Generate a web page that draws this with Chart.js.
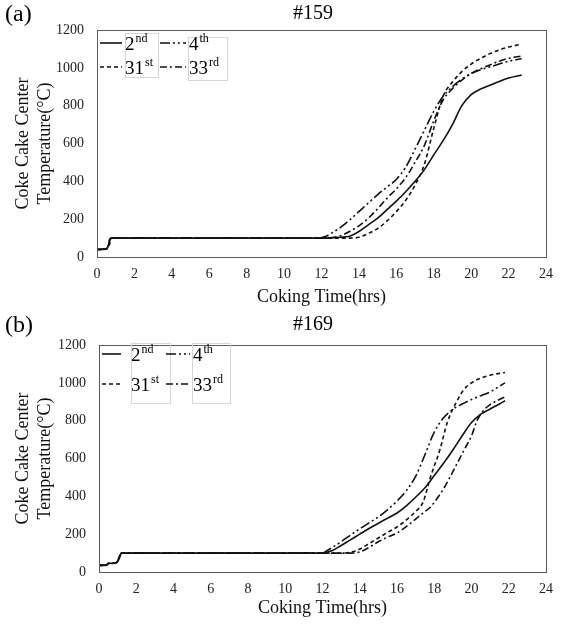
<!DOCTYPE html>
<html>
<head>
<meta charset="utf-8">
<script src="https://cdn.jsdelivr.net/npm/chart.js@4.4.1/dist/chart.umd.min.js"></script>
<style>
  body { margin: 0; background: #fff; width: 564px; height: 635px; overflow: hidden; position: relative; }
  .panel { position: absolute; left: 0; width: 564px; }
</style>
</head>
<body>
<div class="panel" style="top:0;height:315px"><canvas id="chart159"></canvas></div>
<div class="panel" style="top:315px;height:320px"><canvas id="chart169"></canvas></div>
<script>
// legend names: number + superscript suffix
const seriesBase = ["2", "4", "31", "33"];
const seriesSup = ["nd", "th", "st", "rd"];

const xTicks = { min: 0, max: 24, step: 2 };
const yTicks = { min: 0, max: 1200, step: 200 };

// ---- oven #159 (a) ----
const hours159_2nd = [0, 0.5, 0.6, 0.7, 0.8, 12, 12.5, 13, 13.5, 14, 14.5, 15, 15.5, 16, 16.5, 17, 17.5, 18, 18.5, 19, 19.5, 20, 20.5, 21, 21.5, 22, 22.7];
const temp159_2nd = [40, 43, 60, 95, 100, 100, 101, 104, 110, 135, 170, 205, 250, 295, 345, 400, 462, 540, 615, 700, 800, 858, 888, 908, 928, 946, 962];

const hours159_4th = [0, 0.5, 0.6, 0.7, 0.8, 11.8, 12.2, 12.6, 13, 13.5, 14, 14.5, 15, 15.5, 16, 16.5, 17, 17.5, 18, 18.5, 19, 19.5, 20, 20.5, 21, 21.5, 22, 22.7];
const temp159_4th = [40, 42, 55, 98, 100, 100, 108, 130, 155, 195, 240, 285, 330, 370, 410, 475, 570, 670, 770, 850, 900, 940, 970, 990, 1005, 1020, 1035, 1048];

const hours159_31st = [0, 0.5, 0.65, 0.75, 0.85, 13.5, 14, 14.5, 15, 15.5, 16, 16.5, 17, 17.5, 18, 18.5, 19, 19.5, 20, 20.5, 21, 21.5, 22, 22.7];
const temp159_31st = [38, 42, 60, 97, 100, 100, 104, 125, 150, 190, 240, 300, 380, 490, 680, 850, 925, 980, 1020, 1050, 1075, 1095, 1110, 1125];

const hours159_33rd = [0, 0.5, 0.6, 0.7, 0.8, 12, 12.5, 13, 13.5, 14, 14.5, 15, 15.5, 16, 16.5, 17, 17.5, 18, 18.5, 19, 19.5, 20, 20.5, 21, 21.5, 22, 22.7];
const temp159_33rd = [41, 44, 58, 96, 100, 100, 102, 112, 135, 165, 205, 255, 310, 360, 420, 500, 590, 720, 830, 890, 935, 970, 995, 1015, 1035, 1050, 1062];

// ---- oven #169 (b) ----
const hours169_2nd = [0, 0.4, 0.5, 0.9, 1.0, 1.1, 1.2, 12, 12.5, 13, 13.5, 14, 14.5, 15, 15.5, 16, 16.5, 17, 17.5, 18, 18.5, 19, 19.5, 20, 20.5, 21, 21.5, 21.8];
const temp169_2nd = [35, 37, 45, 48, 55, 75, 100, 100, 112, 140, 170, 200, 230, 258, 285, 312, 350, 395, 445, 510, 575, 645, 720, 790, 835, 862, 888, 905];

const hours169_4th = [0, 0.4, 0.5, 0.9, 1.0, 1.1, 1.2, 12, 12.3, 12.5, 13, 13.5, 14, 14.5, 15, 15.5, 16, 16.5, 17, 17.5, 18, 18.5, 19, 19.5, 20, 20.5, 21, 21.5, 21.8];
const temp169_4th = [34, 36, 44, 47, 58, 80, 100, 100, 116, 128, 160, 195, 228, 260, 291, 330, 375, 430, 505, 620, 740, 815, 860, 888, 912, 932, 952, 982, 1000];

const hours169_31st = [0, 0.4, 0.5, 0.9, 1.0, 1.1, 1.2, 13, 13.5, 13.9, 14.5, 15, 15.5, 16, 16.5, 17, 17.4, 17.8, 18.3, 18.7, 19.2, 19.6, 20, 20.5, 21, 21.5, 21.8];
const temp169_31st = [36, 38, 46, 50, 60, 85, 100, 100, 104, 116, 150, 180, 210, 238, 275, 320, 370, 503, 645, 790, 900, 965, 1000, 1025, 1040, 1050, 1055];

const hours169_33rd = [0, 0.4, 0.5, 0.9, 1.0, 1.1, 1.2, 13.5, 14, 14.5, 15, 15.5, 16, 16.5, 17, 17.5, 17.8, 18.5, 19, 19.6, 20, 20.3, 20.7, 21, 21.5, 21.8];
const temp169_33rd = [35, 37, 45, 49, 56, 78, 100, 100, 106, 130, 160, 185, 206, 240, 280, 320, 344, 440, 530, 645, 720, 800, 860, 885, 912, 926];

const serifFont = '"Liberation Serif", "Times New Roman", serif';
const dashes = [[], [10, 3, 2, 3, 2, 3], [4, 3], [7, 3, 2, 3]];

function toPoints(hours, temps) {
    return hours.map((h, i) => ({ x: h, y: temps[i] }));
}

// draws "(a)", "#159", the plot box and the Excel-style legend
const panelDecor = {
    id: "panelDecor",
    afterDraw(chart, args, opts) {
        const ctx = chart.ctx;
        const area = chart.chartArea;
        ctx.save();

        // plot border
        ctx.strokeStyle = "#5a5a5a";
        ctx.lineWidth = 1;
        ctx.setLineDash([]);
        ctx.strokeRect(area.left + 0.5, area.top + 0.5, area.right - area.left, area.bottom - area.top);

        ctx.fillStyle = "#000";
        ctx.textBaseline = "middle";
        ctx.textAlign = "left";
        ctx.font = "24px " + serifFont;
        ctx.fillText(opts.panel, 5, opts.titleY + 1);
        ctx.textAlign = "center";
        ctx.font = "20px " + serifFont;
        ctx.fillText(opts.title, 313, opts.titleY);

        // faint text boxes around legend labels
        ctx.strokeStyle = "#d6d6d6";
        opts.boxes.forEach((b) => ctx.strokeRect(b[0] + 0.5, b[1] + 0.5, b[2], b[3]));

        // legend entries
        ctx.textAlign = "left";
        ctx.textBaseline = "alphabetic";
        ctx.strokeStyle = "#111";
        ctx.lineWidth = 1.6;
        opts.legend.forEach((e, i) => {
            ctx.setLineDash(dashes[i]);
            ctx.beginPath();
            ctx.moveTo(e.lx0, e.y);
            ctx.lineTo(e.lx1, e.y);
            ctx.stroke();
            ctx.font = "19px " + serifFont;
            ctx.fillText(seriesBase[i], e.tx, e.y + 7);
            const w = ctx.measureText(seriesBase[i]).width;
            ctx.font = "12px " + serifFont;
            ctx.fillText(seriesSup[i], e.tx + w + 1, e.y - 1);
        });
        ctx.restore();
    },
};

function makeChart(canvasId, series, cfg) {
    const datasets = series.map((s, i) => ({
        label: seriesBase[i] + seriesSup[i],
        data: toPoints(s[0], s[1]),
        borderColor: "#111",
        borderWidth: 1.6,
        borderDash: dashes[i],
        pointRadius: 0,
        showLine: true,
        fill: false,
        cubicInterpolationMode: "monotone",
    }));

    const ctx = document.getElementById(canvasId).getContext("2d");
    return new Chart(ctx, {
        type: "scatter",
        data: { datasets: datasets },
        plugins: [panelDecor],
        options: {
            responsive: true,
            maintainAspectRatio: false,
            animation: false,
            layout: { padding: { left: 0, right: 564 - cfg.plotRight, top: 30, bottom: 0 } },
            plugins: {
                legend: { display: false },
                tooltip: { enabled: false },
                panelDecor: cfg.decor,
            },
            scales: {
                x: {
                    type: "linear",
                    min: xTicks.min,
                    max: xTicks.max,
                    afterFit: (scale) => { scale.height = cfg.height - 257; },
                    grid: { display: false, drawTicks: false },
                    border: { display: false },
                    ticks: {
                        stepSize: xTicks.step,
                        padding: 9,
                        color: "#222",
                        font: { family: serifFont, size: 14 },
                        callback: (v) => String(v),
                    },
                    title: {
                        display: true,
                        text: "Coking Time(hrs)",
                        color: "#111",
                        font: { family: serifFont, size: 18 },
                        padding: { top: 0, bottom: cfg.xTitlePad },
                    },
                },
                y: {
                    min: yTicks.min,
                    max: yTicks.max,
                    afterFit: (scale) => { scale.width = cfg.plotLeft; },
                    grid: { display: false, drawTicks: false },
                    border: { display: false },
                    ticks: {
                        stepSize: yTicks.step,
                        padding: 13,
                        color: "#222",
                        font: { family: serifFont, size: 14 },
                        callback: (v) => String(v),
                    },
                    title: {
                        display: true,
                        text: ["Coke Cake Center", "Temperature(°C)"],
                        color: "#111",
                        font: { family: serifFont, size: 18, lineHeight: 1.25 },
                        padding: { top: 12, bottom: 0 },
                    },
                },
            },
        },
    });
}

makeChart("chart159", [
    [hours159_2nd, temp159_2nd],
    [hours159_4th, temp159_4th],
    [hours159_31st, temp159_31st],
    [hours159_33rd, temp159_33rd],
], {
    height: 315,
    plotLeft: 97,
    plotRight: 546,
    xTitlePad: 7,
    decor: {
        panel: "(a)",
        title: "#159",
        titleY: 14,
        boxes: [[125, 33, 33, 44], [188, 37, 39, 43]],
        legend: [
            { lx0: 100, lx1: 122, tx: 125, y: 43 },
            { lx0: 160, lx1: 186, tx: 189, y: 43 },
            { lx0: 100, lx1: 122, tx: 125, y: 67 },
            { lx0: 160, lx1: 186, tx: 189, y: 67 },
        ],
    },
});

makeChart("chart169", [
    [hours169_2nd, temp169_2nd],
    [hours169_4th, temp169_4th],
    [hours169_31st, temp169_31st],
    [hours169_33rd, temp169_33rd],
], {
    height: 320,
    plotLeft: 99,
    plotRight: 546,
    xTitlePad: 16,
    decor: {
        panel: "(b)",
        title: "#169",
        titleY: 10,
        boxes: [[131, 28, 39, 60], [192, 28, 38, 60]],
        legend: [
            { lx0: 102, lx1: 121, tx: 131, y: 39 },
            { lx0: 166, lx1: 190, tx: 193, y: 39 },
            { lx0: 102, lx1: 121, tx: 131, y: 69 },
            { lx0: 166, lx1: 190, tx: 193, y: 69 },
        ],
    },
});
</script>
</body>
</html>
